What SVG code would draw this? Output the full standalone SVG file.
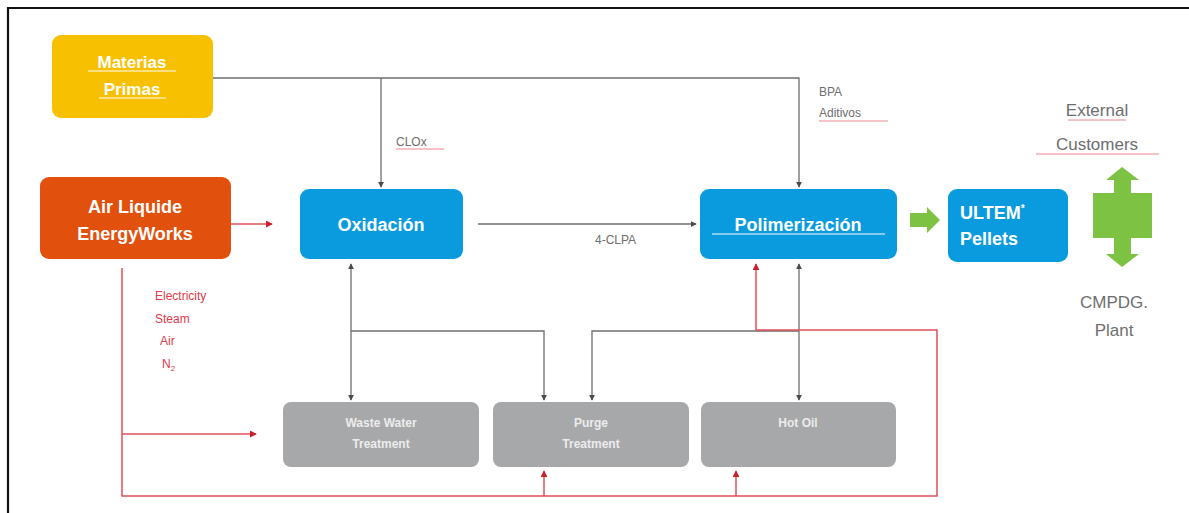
<svg xmlns="http://www.w3.org/2000/svg" width="1189" height="513" viewBox="0 0 1189 513">
<style>
text{font-family:"Liberation Sans",Arial,sans-serif}
.nt{fill:#fff;font-weight:bold;text-anchor:middle}
.gt{fill:#ECECEC;font-weight:bold;text-anchor:middle;font-size:12px}
.gl{fill:none;stroke:#6E6E6E;stroke-width:1.3}
.rl{fill:none;stroke:#E0505A;stroke-width:1.5}
.lbl{fill:#6E6E6E;font-size:12px}
.big{fill:#6E6E6E;font-size:17px;text-anchor:middle}
.rlbl{fill:#E03A4A;font-size:12px}
.ul{stroke:#E88890;stroke-width:1}
</style>
<defs>
<marker id="ag" viewBox="0 0 8 8" refX="7" refY="4" markerWidth="6" markerHeight="6" orient="auto-start-reverse" markerUnits="userSpaceOnUse"><path d="M0,0 L8,4 L0,8 z" fill="#4A4A4A"/></marker>
<marker id="ar" viewBox="0 0 8 8" refX="7" refY="4" markerWidth="7" markerHeight="7" orient="auto-start-reverse" markerUnits="userSpaceOnUse"><path d="M0,0 L8,4 L0,8 z" fill="#C8202E"/></marker>
</defs>
<rect width="1189" height="513" fill="#fff"/>
<path d="M8,513 V8 H1189" fill="none" stroke="#111" stroke-width="2.2"/>

<g id="connectors">
<path class="gl" d="M213,78 H799 V187" marker-end="url(#ag)"/>
<path class="gl" d="M381,78 V187" marker-end="url(#ag)"/>
<path class="gl" d="M478,224 H696" marker-end="url(#ag)"/>
<path class="gl" d="M351,264 V400" marker-start="url(#ag)" marker-end="url(#ag)"/>
<path class="gl" d="M351,331 H544 V400" marker-end="url(#ag)"/>
<path class="gl" d="M799,264 V400" marker-start="url(#ag)" marker-end="url(#ag)"/>
<path class="gl" d="M799,331 H592 V400" marker-end="url(#ag)"/>
<path class="rl" d="M231,224 H272" marker-end="url(#ar)"/>
<path class="rl" d="M122,268 V496 H937 V330 H756 V264" marker-end="url(#ar)"/>
<path class="rl" d="M122,434 H256" marker-end="url(#ar)"/>
<path class="rl" d="M544,496 V471" marker-end="url(#ar)"/>
<path class="rl" d="M736,496 V471" marker-end="url(#ar)"/>
<polygon points="910,213 927,213 927,207 940,220 927,233 927,227 910,227" fill="#7DC242"/>
<g>
<rect x="1093" y="193" width="59" height="45" fill="#7DC242"/>
<rect x="1114" y="178" width="17" height="77" fill="#7DC242"/>
<polygon points="1106,180 1122,167 1139,180" fill="#7DC242"/>
<polygon points="1106,254 1122,267 1139,254" fill="#7DC242"/>
</g>
<text class="lbl" x="396" y="146">CLOx</text>
<line class="ul" x1="396" y1="149" x2="444" y2="149"/>
<text class="lbl" x="819" y="96">BPA</text>
<text class="lbl" x="819" y="117">Aditivos</text>
<line class="ul" x1="819" y1="121" x2="888" y2="121"/>
<text class="lbl" x="595" y="244">4-CLPA</text>
<text class="rlbl" x="155" y="300">Electricity</text>
<text class="rlbl" x="155" y="323">Steam</text>
<text class="rlbl" x="160" y="345">Air</text>
<text class="rlbl" x="162" y="368">N<tspan style="font-size:8px" dy="3">2</tspan></text>
<text class="big" x="1097" y="116">External</text>
<text class="big" x="1097" y="150">Customers</text>
<line class="ul" x1="1068" y1="120" x2="1126" y2="120"/>
<line class="ul" x1="1036" y1="154" x2="1159" y2="154"/>
<text class="big" x="1114" y="308">CMPDG.</text>
<text class="big" x="1114" y="336">Plant</text>
</g>

<g id="materias-primas">
<rect x="52" y="35" width="161" height="83" rx="9" fill="#F7C000"/>
<text class="nt" x="132" y="68" style="font-size:17px">Materias</text>
<text class="nt" x="132" y="95" style="font-size:17px">Primas</text>
<line x1="88" y1="71" x2="176" y2="71" stroke="#fff" stroke-width="1"/>
<line x1="99" y1="98" x2="166" y2="98" stroke="#fff" stroke-width="1"/>
</g>
<g id="air-liquide">
<rect x="40" y="177" width="191" height="82" rx="9" fill="#E2500E"/>
<text class="nt" x="135" y="213" style="font-size:18px">Air Liquide</text>
<text class="nt" x="135" y="240" style="font-size:18px">EnergyWorks</text>
</g>
<g id="oxidacion">
<rect x="300" y="189" width="163" height="70" rx="9" fill="#0A9BDF"/>
<text class="nt" x="381" y="231" style="font-size:18px">Oxidación</text>
</g>
<g id="polimerizacion">
<rect x="700" y="189" width="197" height="70" rx="9" fill="#0A9BDF"/>
<text class="nt" x="798" y="231" style="font-size:18px">Polimerización</text>
<line x1="712" y1="234" x2="885" y2="234" stroke="#fff" stroke-width="1"/>
</g>
<g id="ultem-pellets">
<rect x="948" y="189" width="120" height="73" rx="9" fill="#0A9BDF"/>
<text class="nt" x="960" y="219" style="font-size:18px;text-anchor:start">ULTEM<tspan style="font-size:10px" dy="-7">*</tspan></text>
<text class="nt" x="960" y="245" style="font-size:18px;text-anchor:start">Pellets</text>
</g>
<g id="waste-water">
<rect x="283" y="402" width="196" height="65" rx="8" fill="#A7A8AA"/>
<text class="gt" x="381" y="427">Waste Water</text>
<text class="gt" x="381" y="448">Treatment</text>
</g>
<g id="purge">
<rect x="493" y="402" width="196" height="65" rx="8" fill="#A7A8AA"/>
<text class="gt" x="591" y="427">Purge</text>
<text class="gt" x="591" y="448">Treatment</text>
</g>
<g id="hot-oil">
<rect x="701" y="402" width="195" height="65" rx="8" fill="#A7A8AA"/>
<text class="gt" x="798" y="427">Hot Oil</text>
</g>
</svg>
